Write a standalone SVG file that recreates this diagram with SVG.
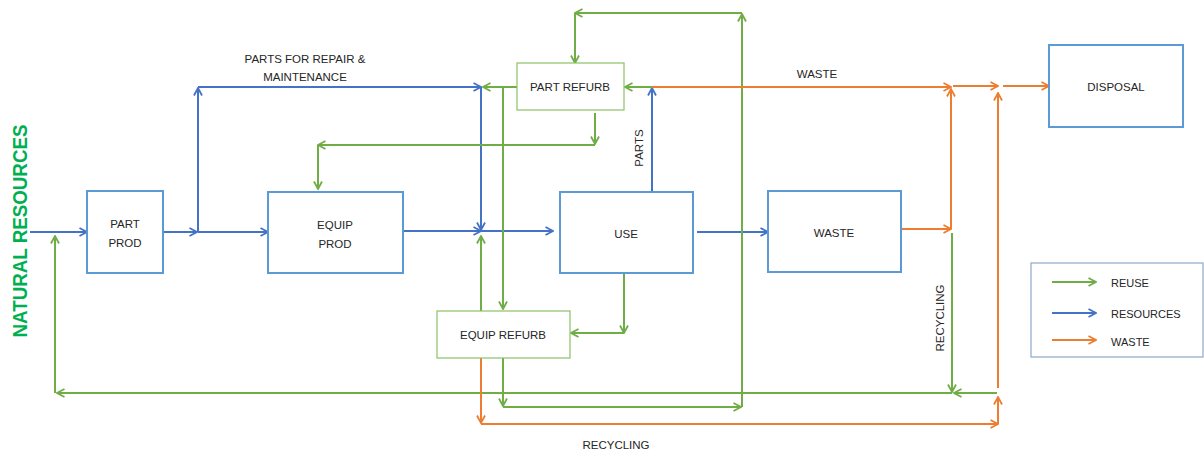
<svg xmlns="http://www.w3.org/2000/svg" width="1204" height="453" viewBox="0 0 1204 453">
  <defs>
    <marker id="ah-blue" viewBox="0 0 10 10" refX="9" refY="5" markerWidth="10" markerHeight="10" markerUnits="userSpaceOnUse" orient="auto">
      <path d="M1.5,1 L9,5 L1.5,9" fill="none" stroke="#4472c4" stroke-width="1.8"/>
    </marker>
    <marker id="ah-green" viewBox="0 0 10 10" refX="9" refY="5" markerWidth="10" markerHeight="10" markerUnits="userSpaceOnUse" orient="auto">
      <path d="M1.5,1 L9,5 L1.5,9" fill="none" stroke="#70ad47" stroke-width="1.8"/>
    </marker>
    <marker id="ah-orange" viewBox="0 0 10 10" refX="9" refY="5" markerWidth="10" markerHeight="10" markerUnits="userSpaceOnUse" orient="auto">
      <path d="M1.5,1 L9,5 L1.5,9" fill="none" stroke="#ed7d31" stroke-width="1.8"/>
    </marker>
    <style>
      .box { fill: #ffffff; stroke: #5b9bd5; stroke-width: 2; }
      .refurb { fill: #ffffff; stroke: #8cc168; stroke-width: 1.2; }
      .legend-box { fill: #ffffff; stroke: #8ea9c8; stroke-width: 1.2; }
      .lbl { font-family: "Liberation Sans", Arial, sans-serif; font-size: 11.5px; fill: #262626; text-anchor: middle; }
      .lbl-l { font-family: "Liberation Sans", Arial, sans-serif; font-size: 11px; fill: #262626; }
      .res { fill: none; stroke: #4472c4; stroke-width: 2; marker-end: url(#ah-blue); }
      .reuse { fill: none; stroke: #70ad47; stroke-width: 2; marker-end: url(#ah-green); }
      .waste { fill: none; stroke: #ed7d31; stroke-width: 2; marker-end: url(#ah-orange); }
    </style>
  </defs>

  <rect width="1204" height="453" fill="#ffffff"/>

  <!-- side title -->
  <text transform="translate(27,231) rotate(-90)" font-family="Liberation Sans, Arial, sans-serif" font-size="20" font-weight="bold" fill="#00b050" text-anchor="middle" textLength="213" lengthAdjust="spacingAndGlyphs">NATURAL RESOURCES</text>

  <g id="connectors">
    <!-- resources flow -->
    <path class="res" d="M30,232 H87"/>
    <path class="res" d="M163,232 H197"/>
    <path class="res" d="M198,232 V88"/>
    <path class="res" d="M198,87 H481"/>
    <path class="res" d="M198,232 H268"/>
    <path class="res" d="M481,87 V230"/>
    <path class="res" d="M403,231 H481"/>
    <path class="res" d="M481,231 H553"/>
    <path class="res" d="M652,192 V88"/>
    <path class="res" d="M697,232 H768"/>

    <!-- reuse flow -->
    <path class="reuse" d="M742,407 V14"/>
    <path class="reuse" d="M742,13 H575"/>
    <path class="reuse" d="M575,13 V63"/>
    <path class="reuse" d="M517,87 H483"/>
    <path class="reuse" d="M503,87 V309"/>
    <path class="reuse" d="M595,113 V144"/>
    <path class="reuse" d="M595,145 H318"/>
    <path class="reuse" d="M318,145 V189"/>
    <path class="reuse" d="M481,311 V236"/>
    <path class="reuse" d="M624,273 V333"/>
    <path class="reuse" d="M624,333 H571"/>
    <path class="reuse" d="M503,358 V406"/>
    <path class="reuse" d="M503,407 H741"/>
    <path class="reuse" d="M652,87 H625"/>
    <path class="reuse" d="M952,233 V392"/>
    <path class="reuse" d="M997,393 H954"/>
    <path class="reuse" d="M952,393 H57"/>
    <path class="reuse" d="M55,393 V236"/>

    <!-- waste flow -->
    <path class="waste" d="M652,87 H951"/>
    <path class="waste" d="M953,86 H998"/>
    <path class="waste" d="M1003,86 H1049"/>
    <path class="waste" d="M901,229 H951"/>
    <path class="waste" d="M951,229 V89"/>
    <path class="waste" d="M998,388 V93"/>
    <path class="waste" d="M481,358 V423"/>
    <path class="waste" d="M481,424 H998"/>
    <path class="waste" d="M998,424 V397"/>

    <!-- connector labels -->
    <text class="lbl" x="305" y="63" font-size="12">PARTS FOR REPAIR &amp;</text>
    <text class="lbl" x="305" y="81" font-size="12">MAINTENANCE</text>
    <text class="lbl" x="817" y="78">WASTE</text>
    <text class="lbl" transform="translate(643,148) rotate(-90)">PARTS</text>
    <text class="lbl" transform="translate(944,318) rotate(-90)">RECYCLING</text>
    <text class="lbl" x="616" y="449">RECYCLING</text>
  </g>

  <g id="part-prod">
    <rect class="box" x="87" y="191" width="76" height="82"/>
    <text class="lbl" x="125" y="228">PART</text>
    <text class="lbl" x="125" y="247">PROD</text>
  </g>

  <g id="equip-prod">
    <rect class="box" x="268" y="192" width="135" height="81"/>
    <text class="lbl" x="335" y="229">EQUIP</text>
    <text class="lbl" x="335" y="248">PROD</text>
  </g>

  <g id="use">
    <rect class="box" x="560" y="192" width="133" height="81"/>
    <text class="lbl" x="626" y="238">USE</text>
  </g>

  <g id="waste">
    <rect class="box" x="768" y="191" width="133" height="81"/>
    <text class="lbl" x="834" y="237">WASTE</text>
  </g>

  <g id="disposal">
    <rect class="box" x="1049" y="45" width="134" height="82"/>
    <text class="lbl" x="1116" y="91">DISPOSAL</text>
  </g>

  <g id="part-refurb">
    <rect class="refurb" x="517" y="63" width="107" height="47"/>
    <text class="lbl" x="570" y="91">PART REFURB</text>
  </g>

  <g id="equip-refurb">
    <rect class="refurb" x="437" y="311" width="133" height="47"/>
    <text class="lbl" x="503" y="339">EQUIP REFURB</text>
  </g>

  <g id="legend">
    <rect class="legend-box" x="1031" y="263" width="172" height="94"/>
    <path class="reuse" d="M1052,282 H1096"/>
    <path class="res" d="M1052,313 H1096"/>
    <path class="waste" d="M1052,340 H1096"/>
    <text class="lbl-l" x="1111" y="287">REUSE</text>
    <text class="lbl-l" x="1111" y="318">RESOURCES</text>
    <text class="lbl-l" x="1111" y="346">WASTE</text>
  </g>
</svg>
